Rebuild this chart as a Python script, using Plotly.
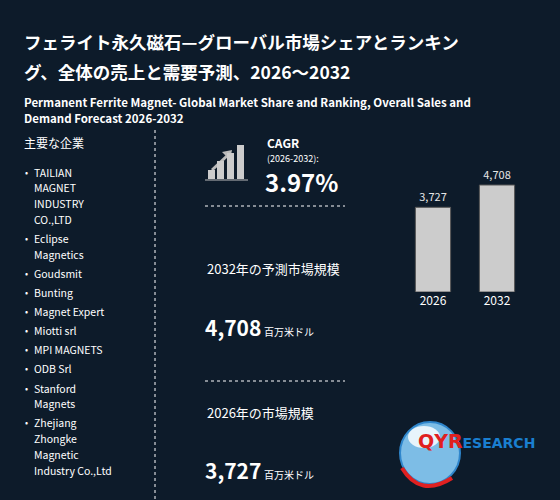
import plotly.graph_objects as go

years = ["2026", "2032"]
market = [3727, 4708]
bar_labels = ["3,727", "4,708"]
cagr = "3.97%"
companies = [
    ["TAILIAN", "MAGNET", "INDUSTRY", "CO.,LTD"],
    ["Eclipse", "Magnetics"],
    ["Goudsmit"],
    ["Bunting"],
    ["Magnet Expert"],
    ["Miotti srl"],
    ["MPI MAGNETS"],
    ["ODB Srl"],
    ["Stanford", "Magnets"],
    ["Zhejiang", "Zhongke", "Magnetic", "Industry Co.,Ltd"],
]

BG = "#0d1b2a"
FONT = "Noto Sans CJK JP"


def py(p):
    return 1 - p / 500


def px_(p):
    return p / 560


fig = go.Figure()
fig.add_trace(go.Bar(
    x=years, y=market, text=bar_labels, textposition="outside",
    textfont=dict(color="#e6e6e6", size=11, family=FONT),
    marker=dict(color="#cccccc", line=dict(color="#555555", width=1)),
    width=0.55, cliponaxis=False,
))

ann = []


def txt(x, y, s, size, bold=False, color="white", anchor="left"):
    ann.append(dict(x=px_(x), y=py(y), xref="paper", yref="paper", text=f"<b>{s}</b>" if bold else s,
                    showarrow=False, xanchor=anchor, yanchor="middle", align="left",
                    font=dict(size=size, color=color, family=FONT)))


txt(22, 42, "フェライト永久磁石—グローバル市場シェアとランキン", 17.5, True)
txt(22, 71, "グ、全体の売上と需要予測、2026～2032", 17.5, True)
txt(22, 102, "Permanent Ferrite Magnet- Global Market Share and Ranking, Overall Sales and", 11.5, True)
txt(22, 118, "Demand Forecast 2026-2032", 11.5, True)
txt(22, 142, "主要な企業", 12)

y = 172
for lines in companies:
    txt(23, y, "•", 9)
    for line in lines:
        txt(32, y, line, 10.5)
        y += 15.8
    y += 3.3

txt(265, 142, "CAGR", 12, True)
txt(265, 158, "(2026-2032):", 9)
txt(263, 181, cagr, 24, True)
txt(205, 268, "2032年の予測市場規模", 13)
txt(203, 327, f"<span style='font-size:21px'><b>{bar_labels[1]}</b></span> <span style='font-size:10px'>百万米ドル</span>", 12)
txt(205, 412, "2026年の市場規模", 13)
txt(203, 470, f"<span style='font-size:21px'><b>{bar_labels[0]}</b></span> <span style='font-size:10px'>百万米ドル</span>", 12)
# logo text
ann.append(dict(x=px_(416), y=py(454), xref="paper", yref="paper", showarrow=False, xanchor="left",
                text="<b><span style='color:#e02020;font-size:19px'>QYR</span><span style='color:#1a7fd0;font-size:14px'>ESEARCH</span></b>",
                font=dict(family="DejaVu Sans")))

shapes = [
    dict(type="line", xref="paper", yref="paper", x0=px_(155), x1=px_(155), y0=py(130), y1=0,
         line=dict(color="white", width=1, dash="dot")),
    dict(type="line", xref="paper", yref="paper", x0=px_(205), x1=px_(345), y0=py(206), y1=py(206),
         line=dict(color="white", width=1, dash="dot")),
    dict(type="line", xref="paper", yref="paper", x0=px_(205), x1=px_(345), y0=py(381), y1=py(381),
         line=dict(color="white", width=1, dash="dot")),
    dict(type="line", xref="paper", yref="paper", x0=px_(205), x1=px_(248), y0=py(180), y1=py(180),
         line=dict(color="#bbbbbb", width=1)),
    dict(type="line", xref="paper", yref="paper", x0=px_(212), x1=px_(228), y0=py(170), y1=py(155),
         line=dict(color="#bbbbbb", width=3)),
    dict(type="path", xref="paper", yref="paper",
         path=f"M {px_(232)} {py(150)} L {px_(222)} {py(152)} L {px_(230)} {py(160)} Z",
         fillcolor="#bbbbbb", line=dict(width=0)),
    # globe
    dict(type="circle", xref="paper", yref="paper", x0=px_(400), x1=px_(460), y0=py(484), y1=py(422),
         fillcolor="#7dbde6", line=dict(color="#2f86cc", width=2)),
    dict(type="circle", xref="paper", yref="paper", x0=px_(408), x1=px_(440), y0=py(448), y1=py(426),
         fillcolor="#e8f4fb", line=dict(width=0)),
    dict(type="path", xref="paper", yref="paper",
         path=f"M {px_(402)} {py(468)} Q {px_(420)} {py(498)} {px_(452)} {py(478)}",
         line=dict(color="#e02020", width=4)),
]
for x0, h in zip([208, 217, 227, 237], [9, 18, 26, 34]):
    shapes.append(dict(type="rect", xref="paper", yref="paper", x0=px_(x0), x1=px_(x0 + 7),
                       y0=py(179), y1=py(179 - h), fillcolor="#cccccc", line=dict(width=0)))

fig.update_layout(
    width=560, height=500, margin=dict(l=0, r=0, t=0, b=0),
    paper_bgcolor=BG, plot_bgcolor=BG, showlegend=False,
    annotations=ann, shapes=shapes,
    xaxis=dict(domain=[px_(401), px_(529)], range=[-0.5, 1.5], showgrid=False, zeroline=False,
               showline=False, ticks="", tickfont=dict(color="white", size=12, family=FONT)),
    yaxis=dict(domain=[py(292), py(160)], range=[0, 5808], visible=False),
)
fig.update_shapes(layer="below")
fig.write_html("out.html", config={"displayModeBar": False},
               post_script="document.body.style.margin='0';document.body.style.background='#0d1b2a';")
